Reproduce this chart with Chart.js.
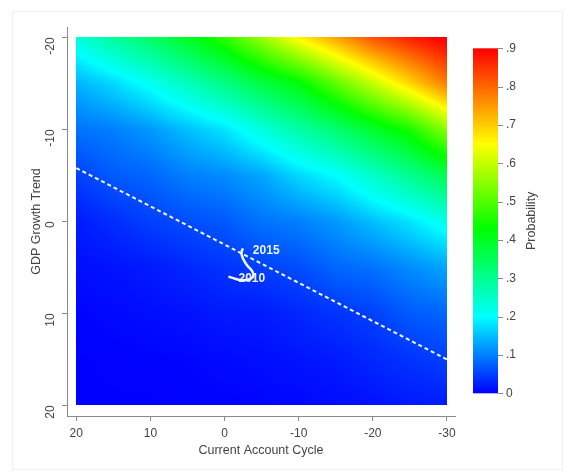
<!DOCTYPE html>
<html>
<head>
<meta charset="utf-8">
<script src="https://cdn.jsdelivr.net/npm/chart.js@4.4.1/dist/chart.umd.min.js"></script>
<style>
  html, body { margin: 0; padding: 0; background: #fff; }
  #wrap { position: relative; width: 565px; height: 472px; }
  #frame { position: absolute; left: 12px; top: 11px; width: 549px; height: 457px; border: 1px solid #f0f0f0; }
  canvas { position: absolute; left: 0; top: 0; }
</style>
</head>
<body>
<div id="wrap">
  <div id="frame"></div>
  <canvas id="chart" width="565" height="472"></canvas>
</div>
<script>
// grid nodes (Current Account Cycle on x, GDP Growth Trend on y)
const gridX = [20, 15, 10, 5, 0, -5, -10, -15, -20, -25, -30];
const gridY = [-20, -15, -10, -5, 0, 5, 10, 15, 20];

// probability, one row per GDP Growth Trend value
const probYm20 = [0.23, 0.29, 0.34, 0.40, 0.47, 0.56, 0.66, 0.74, 0.82, 0.87, 0.91];
const probYm15 = [0.14, 0.17, 0.21, 0.26, 0.31, 0.37, 0.42, 0.51, 0.60, 0.69, 0.78];
const probYm10 = [0.09, 0.10, 0.12, 0.15, 0.18, 0.23, 0.28, 0.33, 0.39, 0.45, 0.55];
const probYm5 = [0.05, 0.07, 0.08, 0.10, 0.11, 0.13, 0.17, 0.20, 0.25, 0.30, 0.36];
const probY0 = [0.02, 0.035, 0.05, 0.06, 0.07, 0.09, 0.10, 0.12, 0.15, 0.18, 0.22];
const probY5 = [0.01, 0.015, 0.02, 0.03, 0.04, 0.05, 0.06, 0.08, 0.09, 0.11, 0.13];
const probY10 = [0.003, 0.006, 0.01, 0.013, 0.02, 0.02, 0.03, 0.04, 0.05, 0.07, 0.08];
const probY15 = [0, 0.001, 0.002, 0.004, 0.007, 0.01, 0.015, 0.02, 0.03, 0.04, 0.05];
const probY20 = [0, 0, 0, 0.001, 0.002, 0.003, 0.005, 0.009, 0.013, 0.02, 0.02];
const probGrid = [probYm20, probYm15, probYm10, probYm5, probY0, probY5, probY10, probY15, probY20];

// tick labels
const xTicks = [20, 10, 0, -10, -20, -30];
const yTicks = [-20, -10, 0, 10, 20];
const probTicks = [0, 0.1, 0.2, 0.3, 0.4, 0.5, 0.6, 0.7, 0.8, 0.9];

// dashed threshold line
const thresholdX = [20, -30];
const thresholdY = [-5.8, 15];

// observed path 2010 -> 2015
const pathX = [-0.53, -1.43, -2.33, -3.36, -3.89, -3.68, -3.0, -2.47, -2.28, -2.47];
const pathY = [6.0, 6.23, 6.4, 6.29, 5.93, 5.36, 4.74, 4.01, 3.4, 2.92];
const pathLabels = ["2010", "", "", "", "", "", "", "", "", "2015"];

// colour scale: blue -> cyan -> green -> yellow -> red
const cmap = [
  [0, [0, 0, 255]],
  [0.2, [0, 255, 255]],
  [0.43, [0, 255, 0]],
  [0.65, [255, 255, 0]],
  [0.9, [255, 0, 0]],
];
const probMax = 0.9;

function colorFor(p) {
  if (p <= cmap[0][0]) return cmap[0][1];
  for (let i = 1; i < cmap.length; i++) {
    if (p <= cmap[i][0]) {
      const a = cmap[i - 1], b = cmap[i];
      const t = (p - a[0]) / (b[0] - a[0]);
      return [0, 1, 2].map((c) => a[1][c] + (b[1][c] - a[1][c]) * t);
    }
  }
  return cmap[cmap.length - 1][1];
}

function gridValue(vx, vy) {
  let fx = (vx - gridX[0]) / (gridX[1] - gridX[0]);
  let fy = (vy - gridY[0]) / (gridY[1] - gridY[0]);
  fx = Math.min(Math.max(fx, 0), gridX.length - 1);
  fy = Math.min(Math.max(fy, 0), gridY.length - 1);
  const i = Math.min(Math.floor(fx), gridX.length - 2);
  const j = Math.min(Math.floor(fy), gridY.length - 2);
  const tx = fx - i, ty = fy - j;
  const top = probGrid[j][i] * (1 - tx) + probGrid[j][i + 1] * tx;
  const bot = probGrid[j + 1][i] * (1 - tx) + probGrid[j + 1][i + 1] * tx;
  return top * (1 - ty) + bot * ty;
}

// heatmap drawn under the datasets, placed with the chart's scales
const heatmap = {
  id: "heatmap",
  beforeDatasetsDraw(chart) {
    const xs = chart.scales.x, ys = chart.scales.y;
    const x0 = Math.round(xs.getPixelForValue(gridX[0]));
    const x1 = Math.round(xs.getPixelForValue(gridX[gridX.length - 1]));
    const y0 = Math.round(ys.getPixelForValue(gridY[0]));
    const y1 = Math.round(ys.getPixelForValue(gridY[gridY.length - 1]));
    const w = x1 - x0, h = y1 - y0;
    const off = document.createElement("canvas");
    off.width = w;
    off.height = h;
    const octx = off.getContext("2d");
    const img = octx.createImageData(w, h);
    for (let py = 0; py < h; py++) {
      const vy = ys.getValueForPixel(y0 + py + 0.5);
      for (let px = 0; px < w; px++) {
        const vx = xs.getValueForPixel(x0 + px + 0.5);
        const c = colorFor(gridValue(vx, vy));
        const k = (py * w + px) * 4;
        img.data[k] = c[0];
        img.data[k + 1] = c[1];
        img.data[k + 2] = c[2];
        img.data[k + 3] = 255;
      }
    }
    octx.putImageData(img, 0, 0);
    chart.ctx.drawImage(off, x0, y0);
  },
  afterDatasetsDraw(chart) {
    // year labels on the path
    const ctx = chart.ctx;
    const meta = chart.getDatasetMeta(1);
    ctx.save();
    ctx.fillStyle = "#eef2ff";
    ctx.font = "bold 12px 'Liberation Sans', Arial, sans-serif";
    ctx.textAlign = "left";
    ctx.textBaseline = "middle";
    pathLabels.forEach((lab, i) => {
      if (!lab) return;
      const pt = meta.data[i];
      ctx.fillText(lab, pt.x + 10, pt.y + 2);
    });
    ctx.restore();
  },
  afterDraw(chart) {
    // colour bar on the probability scale
    const ctx = chart.ctx;
    const cb = chart.scales.cb;
    const yTop = cb.getPixelForValue(probMax);
    const yBot = cb.getPixelForValue(0);
    const bx0 = 473, bx1 = 498;
    const grad = ctx.createLinearGradient(0, yBot, 0, yTop);
    cmap.forEach(([p, c]) => grad.addColorStop(p / probMax, `rgb(${c[0]},${c[1]},${c[2]})`));
    ctx.save();
    ctx.fillStyle = grad;
    ctx.fillRect(bx0, yTop, bx1 - bx0, yBot - yTop);
    ctx.strokeStyle = "#8a8a8a";
    ctx.lineWidth = 1;
    probTicks.forEach((t) => {
      const y = Math.round(cb.getPixelForValue(t)) + 0.5;
      ctx.beginPath();
      ctx.moveTo(bx1, y);
      ctx.lineTo(bx1 + 5, y);
      ctx.stroke();
    });
    ctx.translate(532, (yTop + yBot) / 2);
    ctx.rotate(-Math.PI / 2);
    ctx.fillStyle = "#444";
    ctx.font = "12.5px 'Liberation Sans', Arial, sans-serif";
    ctx.textAlign = "center";
    ctx.textBaseline = "middle";
    ctx.fillText("Probability", 0, 0);
    ctx.restore();
  },
};

const font = { family: "'Liberation Sans', Arial, sans-serif", size: 12 };
const axisColor = "#8a8a8a";
const textColor = "#444";

function noPad(s) {
  s.paddingTop = 0;
  s.paddingBottom = 0;
  s.paddingLeft = 0;
  s.paddingRight = 0;
}

new Chart(document.getElementById("chart"), {
  type: "scatter",
  data: {
    datasets: [
      {
        data: thresholdX.map((x, i) => ({ x, y: thresholdY[i] })),
        showLine: true,
        borderColor: "#f4f6ff",
        borderWidth: 2,
        borderDash: [4, 3],
        pointRadius: 0,
      },
      {
        data: pathX.map((x, i) => ({ x, y: pathY[i] })),
        showLine: true,
        borderColor: "#f4f6ff",
        borderWidth: 2.5,
        tension: 0.35,
        pointRadius: 0,
      },
    ],
  },
  options: {
    responsive: false,
    animation: false,
    devicePixelRatio: 1,
    events: [],
    layout: { padding: { top: 27, left: 0, right: 0, bottom: 0 } },
    plugins: { legend: { display: false }, tooltip: { enabled: false } },
    scales: {
      x: {
        type: "linear",
        reverse: true,
        min: -31.08,
        max: 21.25,
        afterBuildTicks: (s) => { s.ticks = xTicks.map((v) => ({ value: v })); },
        afterFit: (s) => { s.height = 56; noPad(s); },
        grid: { drawOnChartArea: false, tickLength: 5, color: axisColor },
        border: { color: axisColor },
        ticks: { color: textColor, font, padding: 5, maxRotation: 0 },
        title: {
          display: true,
          text: "Current Account Cycle",
          color: textColor,
          font: { family: font.family, size: 12.5 },
          padding: { top: 0, bottom: 14 },
        },
      },
      y: {
        type: "linear",
        reverse: true,
        min: -21.13,
        max: 21.15,
        afterBuildTicks: (s) => { s.ticks = yTicks.map((v) => ({ value: v })); },
        afterFit: (s) => { s.width = 67; noPad(s); },
        grid: { drawOnChartArea: false, tickLength: 5, color: axisColor },
        border: { color: axisColor },
        ticks: { color: textColor, font, padding: 11, minRotation: 90, maxRotation: 90 },
        title: {
          display: true,
          text: "GDP Growth Trend",
          color: textColor,
          font: { family: font.family, size: 12.5 },
          padding: { top: 29, bottom: 0 },
        },
      },
      cb: {
        type: "linear",
        axis: "y",
        position: "right",
        min: -0.0592,
        max: 0.9556,
        afterBuildTicks: (s) => { s.ticks = probTicks.map((v) => ({ value: v })); },
        afterFit: (s) => { s.width = 110; noPad(s); },
        grid: { display: true, drawOnChartArea: false, drawTicks: false, color: "rgba(0,0,0,0)" },
        border: { display: false },
        ticks: {
          color: textColor,
          font,
          padding: 51,
          callback: (v) => (v === 0 ? "0" : "." + Math.round(v * 10)),
        },
      },
    },
  },
  plugins: [heatmap],
});
</script>
</body>
</html>
